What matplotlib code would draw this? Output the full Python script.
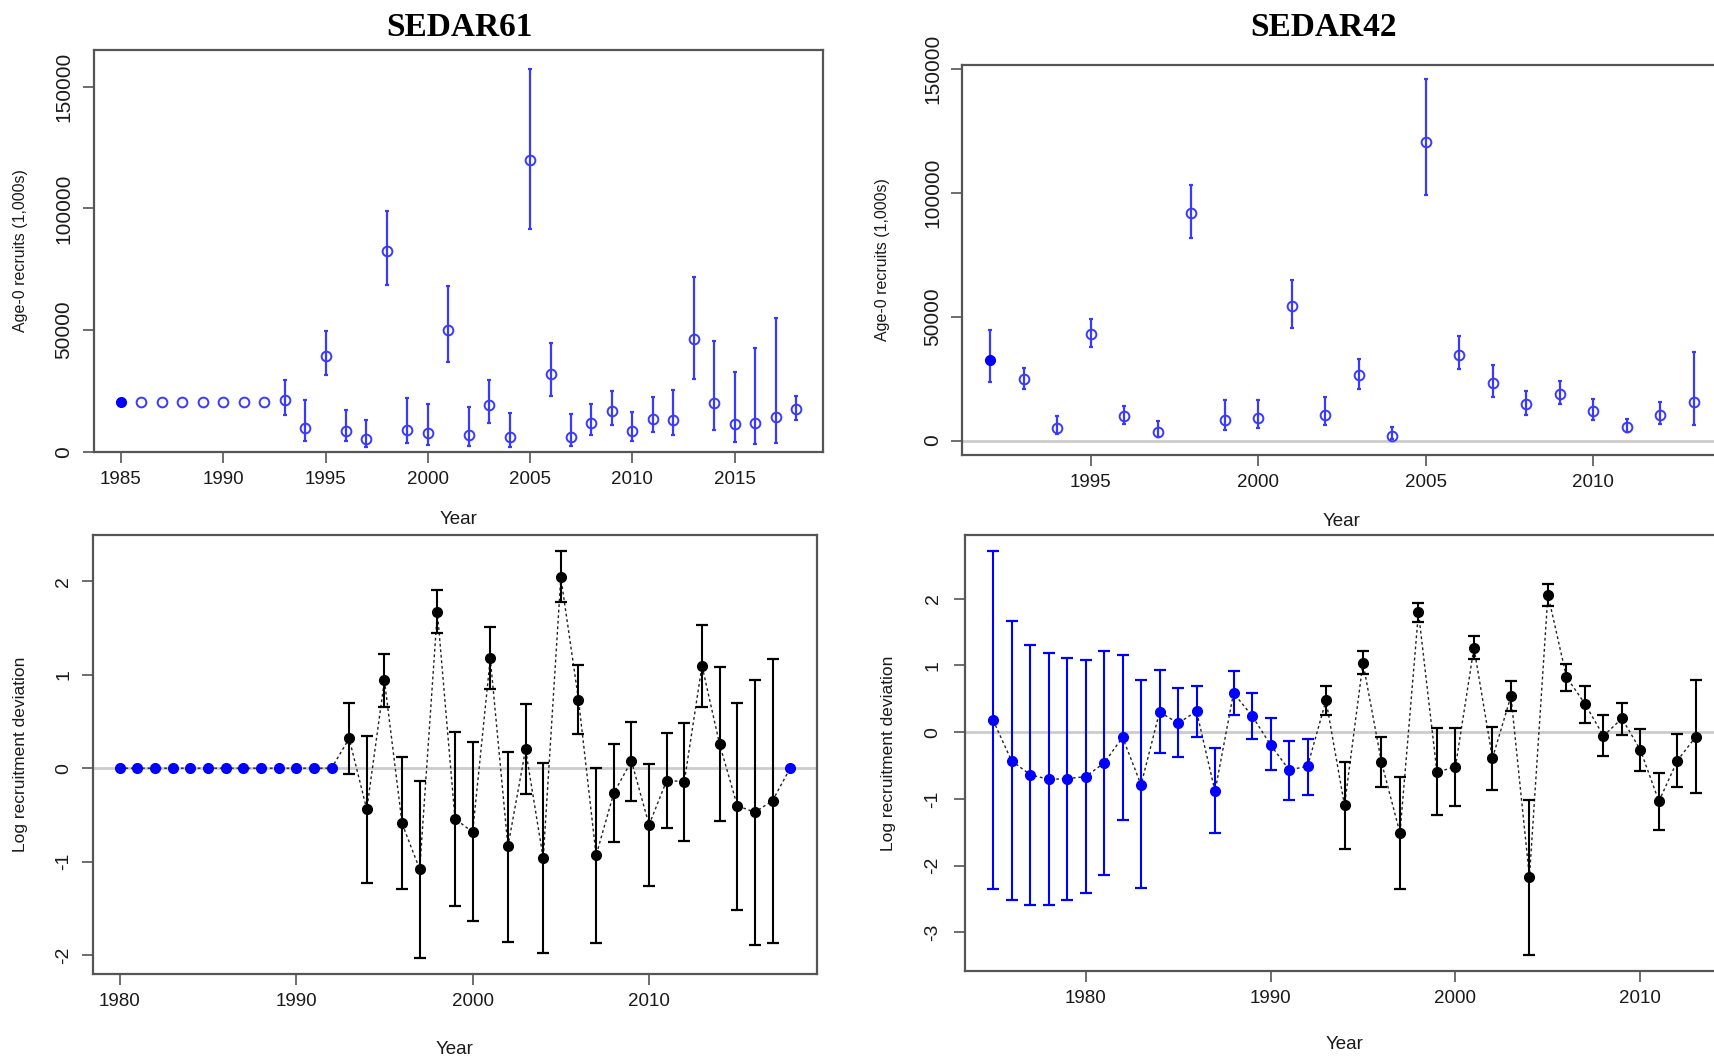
import numpy as np
import matplotlib
matplotlib.use("Agg")
import matplotlib.pyplot as plt

plt.rcParams['font.family'] = ['Liberation Sans', 'DejaVu Sans']
plt.rcParams['axes.unicode_minus'] = False

# ---------------- SEDAR61 age-0 recruits ----------------
s61_years = list(range(1985, 2019))
s61_rec = [20400, 20400, 20400, 20400, 20400, 20400, 20400, 20400,
           21250, 9860, 39580, 8750, 5280, 82500, 9030, 7920, 50140, 6810,
           19170, 5970, 119860, 32220, 6110, 11810, 16670, 8470, 13470, 13190,
           46250, 20280, 11530, 11810, 14310, 17500]
s61_rec_lo = [np.nan] * 8 + [15280, 4580, 31530, 4440, 2080, 68470, 3610, 3060,
              36940, 2500, 12080, 2080, 91530, 23190, 2500, 7080, 10970, 4310,
              8330, 6810, 29860, 9030, 4030, 3190, 3610, 13060]
s61_rec_hi = [np.nan] * 8 + [29580, 21530, 49720, 17080, 13190, 99030, 22220, 19860,
              68060, 18330, 29720, 16110, 157220, 44720, 15420, 19720, 25140, 16390,
              22500, 25420, 71810, 45690, 32780, 42500, 55000, 23060]

# ---------------- SEDAR42 age-0 recruits ----------------
s42_years = list(range(1992, 2014))
s42_rec = [32430, 24800, 5180, 43050, 9810, 3540, 91960, 8450, 9260, 54360,
           10350, 26430, 1770, 120570, 34740, 23430, 14710, 18940, 11850, 5450,
           10220, 15400]
s42_rec_lo = [23710, 20710, 2590, 37870, 6680, 1500, 81880, 4360, 5040, 45500,
              6270, 20980, 680, 99320, 28750, 17710, 10490, 14580, 8310, 3410,
              6540, 6400]
s42_rec_hi = [44550, 29290, 10080, 49050, 14030, 7900, 103270, 16350, 16350, 64850,
              17440, 32970, 5450, 145910, 42100, 30520, 20160, 24250, 16620, 8580,
              15530, 35970]

# ---------------- SEDAR61 log recruitment deviations ----------------
d61_years = list(range(1980, 2019))
d61_dev = [0.0] * 13 + [0.318, -0.442, 0.940, -0.592, -1.082, 1.675, -0.541, -0.684,
           1.177, -0.837, 0.201, -0.965, 2.044, 0.735, -0.932, -0.267, 0.077, -0.607,
           -0.132, -0.143, 1.097, 0.256, -0.402, -0.472, -0.347, 0.0]
d61_lo = [np.nan] * 13 + [-0.066, -1.225, 0.654, -1.291, -2.029, 1.444, -1.473, -1.638,
          0.845, -1.857, -0.278, -1.982, 1.777, 0.369, -1.872, -0.790, -0.347, -1.258,
          -0.644, -0.779, 0.654, -0.570, -1.521, -1.890, -1.872, np.nan]
d61_hi = [np.nan] * 13 + [0.698, 0.340, 1.225, 0.121, -0.139, 1.905, 0.388, 0.278,
          1.510, 0.175, 0.684, 0.051, 2.322, 1.101, 0.007, 0.256, 0.494, 0.044,
          0.380, 0.486, 1.528, 1.079, 0.702, 0.947, 1.170, np.nan]
d61_early = [True] * 13 + [False] * 25 + [True]

# ---------------- SEDAR42 log recruitment deviations ----------------
d42_years = list(range(1975, 2014))
d42_dev = [0.179, -0.431, -0.636, -0.708, -0.697, -0.667, -0.462, -0.077, -0.790,
           0.303, 0.133, 0.313, -0.887, 0.585, 0.246, -0.190, -0.564, -0.513,
           0.477, -1.097, 1.041, -0.451, -1.513, 1.795, -0.600, -0.518, 1.267,
           -0.390, 0.538, -2.174, 2.062, 0.826, 0.426, -0.056, 0.205, -0.267,
           -1.036, -0.426, -0.067]
d42_lo = [-2.354, -2.518, -2.585, -2.590, -2.513, -2.405, -2.138, -1.313, -2.338,
          -0.308, -0.369, -0.072, -1.518, 0.262, -0.103, -0.574, -1.015, -0.938,
          0.262, -1.754, 0.867, -0.815, -2.349, 1.656, -1.246, -1.103, 1.092,
          -0.872, 0.313, -3.338, 1.892, 0.621, 0.144, -0.354, -0.036, -0.585,
          -1.467, -0.821, -0.918]
d42_hi = [2.713, 1.667, 1.313, 1.179, 1.108, 1.077, 1.215, 1.159, 0.779,
          0.928, 0.656, 0.697, -0.241, 0.913, 0.590, 0.205, -0.128, -0.097,
          0.687, -0.441, 1.210, -0.072, -0.672, 1.938, 0.056, 0.056, 1.446,
          0.077, 0.764, -1.015, 2.226, 1.015, 0.687, 0.256, 0.441, 0.046,
          -0.615, -0.031, 0.785]
d42_early = [True] * 18 + [False] * 21

titles = ["SEDAR61", "SEDAR42"]
xlabel_text = "Year"
ylab_rec = "Age-0 recruits (1,000s)"
ylab_dev = "Log recruitment deviation"

FRAME = '#555555'
BLUE_T = '#3a3aff'
BLUE = '#0000ff'
TXT = '#1a1a1a'

W, H = 1714, 1056
fig = plt.figure(figsize=(W / 100, H / 100), dpi=100)


def ax_px(l, t, r, b):
    return fig.add_axes([l / W, 1 - b / H, (r - l) / W, (b - t) / H])


def rlim(lo, hi):
    d = (hi - lo) * 0.04
    return lo - d, hi + d


def style(ax, xticks, yticks, xlab_y, ylab_x, ylab, ylab_size, ytick_off, ytick_size):
    for s in ax.spines.values():
        s.set_color(FRAME)
        s.set_linewidth(1.6)
    ax.set_xticks(xticks)
    ax.set_yticks(yticks)
    ax.tick_params(axis='both', length=8, width=1.2, color=FRAME, labelcolor=TXT)
    ax.tick_params(axis='x', pad=6, labelsize=13.5)
    ax.tick_params(axis='y', pad=ytick_off, labelsize=ytick_size)
    plt.setp(ax.get_yticklabels(), rotation=90, va='center', ha='center')
    ax.set_xlabel(xlabel_text, fontsize=13.5, color=TXT, va='center')
    ax.xaxis.set_label_coords(0.5, xlab_y)
    ax.set_ylabel(ylab, fontsize=ylab_size, color=TXT, va='center')
    ax.yaxis.set_label_coords(ylab_x, 0.5)


def rec_panel(ax, years, rec, lo, hi):
    years = np.array(years, float)
    rec = np.array(rec, float)
    lo = np.array(lo, float)
    hi = np.array(hi, float)
    m = ~np.isnan(lo)
    ax.errorbar(years[m], rec[m], yerr=[rec[m] - lo[m], hi[m] - rec[m]], fmt='none',
                ecolor=BLUE_T, elinewidth=1.6, capsize=1.5, capthick=1.6, zorder=2)
    ax.plot(years[1:], rec[1:], 'o', mfc='none', mec=BLUE_T, mew=1.4, ms=7, zorder=3)
    ax.plot(years[:1], rec[:1], 'o', color=BLUE, ms=7, zorder=3)


def dev_panel(ax, years, dev, lo, hi, early):
    years = np.array(years, float)
    dev = np.array(dev, float)
    lo = np.array(lo, float)
    hi = np.array(hi, float)
    early = np.array(early, bool)
    ax.axhline(0, color='#cccccc', lw=2, zorder=0)
    ax.plot(years, dev, linestyle=(0, (2, 2)), color='#222222', lw=1, zorder=1)
    for mask, col in [(early, BLUE), (~early, 'black')]:
        mm = mask & ~np.isnan(lo)
        if mm.any():
            ax.errorbar(years[mm], dev[mm], yerr=[dev[mm] - lo[mm], hi[mm] - dev[mm]],
                        fmt='none', ecolor=col, elinewidth=1.5, capsize=4, capthick=1.6,
                        zorder=2)
        ax.plot(years[mask], dev[mask], 'o', color=col, ms=7, zorder=3)


# ---- Top-left: SEDAR61 recruits ----
ax1 = ax_px(94, 50, 823, 452)
rec_panel(ax1, s61_years, s61_rec, s61_rec_lo, s61_rec_hi)
ax1.set_xlim(*rlim(1985, 2018))
ax1.set_ylim(0, 165000)
style(ax1, [1985, 1990, 1995, 2000, 2005, 2010, 2015], [0, 50000, 100000, 150000],
      -0.167, -0.1015, ylab_rec, 11.5, 14, 15)

# ---- Top-right: SEDAR42 recruits ----
ax2 = ax_px(962, 65, 1722, 455)
ax2.axhline(0, color='#cccccc', lw=2, zorder=0)
rec_panel(ax2, s42_years, s42_rec, s42_rec_lo, s42_rec_hi)
ax2.set_xlim(*rlim(1992, 2013))
ax2.set_ylim(*rlim(0, 145910))
style(ax2, [1995, 2000, 2005, 2010], [0, 50000, 100000, 150000],
      -0.171, -0.104, ylab_rec, 11.5, 13, 15)

# ---- Bottom-left: SEDAR61 deviations ----
ax3 = ax_px(93, 535, 817, 974)
dev_panel(ax3, d61_years, d61_dev, d61_lo, d61_hi, d61_early)
ax3.set_xlim(*rlim(1980, 2018))
ax3.set_ylim(*rlim(-2.029, 2.322))
style(ax3, [1980, 1990, 2000, 2010], [-2, -1, 0, 1, 2],
      -0.171, -0.1008, ylab_dev, 12.5, 13, 14)

# ---- Bottom-right: SEDAR42 deviations ----
ax4 = ax_px(965, 535, 1724, 971)
dev_panel(ax4, d42_years, d42_dev, d42_lo, d42_hi, d42_early)
ax4.set_xlim(*rlim(1975, 2013))
ax4.set_ylim(*rlim(-3.338, 2.713))
style(ax4, [1980, 1990, 2000, 2010], [-3, -2, -1, 0, 1, 2],
      -0.168, -0.1014, ylab_dev, 12.5, 15, 14)

fig.text(459 / W, 1 - 27 / H, titles[0], ha='center', va='center', fontsize=24,
         fontweight='bold', family='Liberation Serif')
fig.text(1324 / W, 1 - 27 / H, titles[1], ha='center', va='center', fontsize=24,
         fontweight='bold', family='Liberation Serif')

fig.savefig('out.png', dpi=100)
